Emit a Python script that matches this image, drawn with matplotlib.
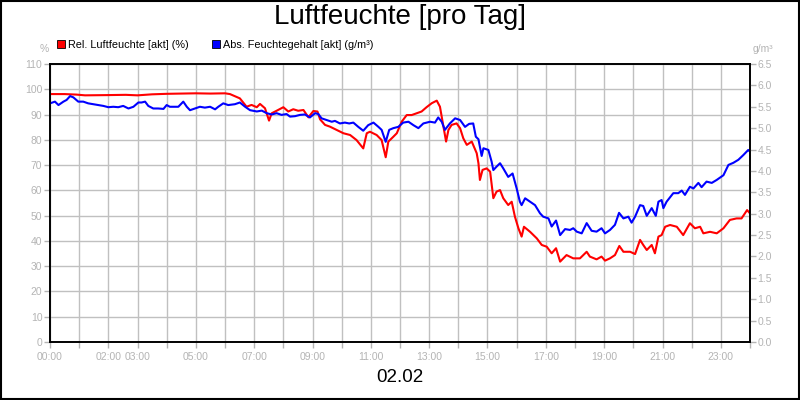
import matplotlib
matplotlib.use("Agg")
import matplotlib.pyplot as plt
from matplotlib.patches import Rectangle, Patch

plt.rcParams["font.family"] = ["Liberation Sans", "DejaVu Sans"]

# === Daten ===
rel_h = [0.0, 0.5, 0.9, 1.2, 2.0, 2.6, 3.0, 3.5, 4.0, 4.5, 5.0, 5.5, 6.0, 6.17,
         6.51, 6.74, 6.91, 7.09, 7.2, 7.37, 7.51, 7.6, 7.77, 8.0, 8.17, 8.34,
         8.51, 8.69, 8.86, 9.03, 9.17, 9.26, 9.43, 9.6, 9.83, 10.06, 10.29,
         10.51, 10.74, 10.86, 10.97, 11.2, 11.37, 11.51, 11.6, 11.77, 11.89,
         12.06, 12.23, 12.4, 12.57, 12.74, 12.91, 13.09, 13.26, 13.37, 13.49,
         13.58, 13.66, 13.77, 13.94, 14.06, 14.17, 14.29, 14.46, 14.63, 14.69,
         14.74, 14.83, 14.97, 15.09, 15.2, 15.31, 15.43, 15.54, 15.71, 15.83,
         15.94, 16.06, 16.17, 16.25, 16.46, 16.69, 16.86, 17.03, 17.2, 17.35,
         17.49, 17.71, 17.94, 18.17, 18.4, 18.51, 18.74, 18.91, 19.03, 19.2,
         19.37, 19.52, 19.66, 19.89, 20.06, 20.23, 20.34, 20.46, 20.63, 20.74,
         20.86, 20.97, 21.09, 21.26, 21.49, 21.71, 21.94, 22.11, 22.29, 22.4,
         22.63, 22.86, 23.09, 23.31, 23.54, 23.71, 23.9, 24.0]
rel_pct = [98.1, 98.1, 97.9, 97.6, 97.7, 97.8, 97.6, 98.0, 98.2, 98.3, 98.4, 98.3, 98.4, 98.1,
           96.4, 93.1, 93.8, 92.9, 94.2, 92.5, 87.6, 90.5, 91.5, 92.9, 91.2, 92.1,
           91.5, 91.8, 88.9, 91.4, 91.2, 88.1, 85.9, 85.2, 83.9, 82.6, 81.9,
           79.9, 76.6, 82.6, 83.2, 81.9, 79.9, 73.1, 79.3, 81.2, 82.6,
           87.2, 89.8, 89.8, 90.5, 91.2, 92.9, 94.5, 95.5, 93.1, 85.2,
           79.3, 83.9, 85.9, 86.5, 84.6, 80.6, 78.0, 79.3, 74.7, 70.7,
           64.1, 68.1, 68.7, 67.4, 56.9, 59.5, 60.1, 56.9, 54.2, 55.5,
           49.6, 45.0, 41.7, 45.6, 43.6, 41.0, 38.4, 37.7, 35.1, 37.1,
           31.8, 34.4, 33.1, 33.1, 35.7, 33.8, 32.7, 33.8, 32.2, 33.1,
           34.4, 38.0, 35.7, 35.7, 34.8, 40.4, 38.4, 36.4, 38.4, 35.1,
           41.7, 42.3, 45.6, 46.3, 45.6, 42.3, 47.0, 45.0, 45.6, 43.0,
           43.6, 43.0, 45.0, 48.3, 48.9, 48.9, 52.2, 50.9]

abs_h = [0.0, 0.17, 0.29, 0.46, 0.57, 0.69, 0.8, 0.97, 1.14, 1.31, 1.49, 1.66,
         1.83, 2.0, 2.17, 2.34, 2.51, 2.69, 2.86, 3.03, 3.14, 3.26, 3.37, 3.54,
         3.71, 3.89, 4.0, 4.11, 4.29, 4.4, 4.57, 4.69, 4.8, 4.97, 5.14, 5.31,
         5.49, 5.66, 5.77, 5.94, 6.11, 6.34, 6.51, 6.69, 6.86, 7.09, 7.26, 7.43,
         7.6, 7.77, 7.94, 8.11, 8.23, 8.4, 8.57, 8.74, 8.91, 9.09, 9.2, 9.31,
         9.49, 9.66, 9.77, 9.94, 10.11, 10.26, 10.4, 10.57, 10.74, 10.91, 11.09,
         11.26, 11.37, 11.51, 11.63, 11.77, 11.94, 12.11, 12.29, 12.46, 12.63,
         12.8, 13.03, 13.2, 13.31, 13.43, 13.54, 13.71, 13.89, 14.06, 14.23,
         14.37, 14.51, 14.6, 14.69, 14.8, 14.86, 15.03, 15.14, 15.2, 15.31,
         15.43, 15.54, 15.71, 15.86, 16.0, 16.11, 16.17, 16.29, 16.46, 16.63,
         16.8, 16.91, 17.09, 17.2, 17.35, 17.49, 17.66, 17.83, 17.94, 18.06,
         18.23, 18.4, 18.57, 18.74, 18.91, 19.03, 19.2, 19.37, 19.51, 19.66,
         19.83, 19.94, 20.06, 20.23, 20.34, 20.46, 20.63, 20.77, 20.86, 20.97,
         21.03, 21.14, 21.37, 21.54, 21.66, 21.77, 21.94, 22.06, 22.23, 22.34,
         22.51, 22.69, 22.86, 23.09, 23.26, 23.43, 23.6, 23.77, 23.94, 24.0]
abs_gm3 = [5.58, 5.62, 5.54, 5.62, 5.66, 5.75, 5.72, 5.62, 5.62, 5.58, 5.56, 5.54,
           5.52, 5.49, 5.50, 5.49, 5.52, 5.46, 5.50, 5.60, 5.60, 5.62, 5.52, 5.46,
           5.46, 5.45, 5.54, 5.50, 5.50, 5.50, 5.62, 5.50, 5.42, 5.46, 5.50, 5.48,
           5.50, 5.44, 5.50, 5.58, 5.54, 5.56, 5.60, 5.50, 5.42, 5.39, 5.41, 5.35,
           5.32, 5.35, 5.31, 5.33, 5.27, 5.28, 5.31, 5.32, 5.25, 5.35, 5.33, 5.23,
           5.19, 5.15, 5.17, 5.11, 5.13, 5.11, 5.13, 5.03, 4.94, 5.07, 5.13,
           5.03, 4.96, 4.68, 4.96, 5.00, 5.03, 5.13, 5.15, 5.07, 5.00,
           5.11, 5.15, 5.13, 5.25, 5.15, 4.96, 5.11, 5.23, 5.19, 5.03,
           5.10, 5.11, 4.80, 4.74, 4.35, 4.53, 4.49, 4.22, 4.02, 4.10,
           4.18, 4.06, 3.86, 3.94, 3.59, 3.28, 3.20, 3.36, 3.28, 3.20,
           3.01, 2.93, 2.89, 2.70, 2.84, 2.50, 2.64, 2.62, 2.66, 2.58,
           2.54, 2.78, 2.60, 2.58, 2.66, 2.54, 2.62, 2.74, 3.02, 2.89,
           2.93, 2.79, 2.93, 3.20, 3.18, 2.95, 3.13, 2.95, 3.28, 3.32,
           3.13, 3.28, 3.48, 3.48, 3.54, 3.44, 3.63, 3.59, 3.72, 3.62,
           3.75, 3.72, 3.79, 3.90, 4.14, 4.19, 4.26, 4.37, 4.49, 4.45]

stunden = list(range(25))
x_labels = {0: "00:00", 2: "02:00", 3: "03:00", 5: "05:00", 7: "07:00", 9: "09:00",
            11: "11:00", 13: "13:00", 15: "15:00", 17: "17:00", 19: "19:00",
            21: "21:00", 23: "23:00"}
links_ticks = list(range(0, 111, 10))
rechts_ticks = [i * 0.5 for i in range(14)]

grau = "#b4b4b4"
gitter = "#c0c0c0"

fig = plt.figure(figsize=(8, 4), dpi=100)
fig.patch.set_facecolor("white")
fig.patches.append(Rectangle((0.001, 0.002), 0.998, 0.996, transform=fig.transFigure,
                             fill=False, edgecolor="black", linewidth=1.5))

ax = fig.add_axes([50 / 800, 58 / 400, 700 / 800, 278 / 400])
ax2 = ax.twinx()

ax.plot(rel_h, rel_pct, color="#ff0000", lw=1.5)
ax2.plot(abs_h, abs_gm3, color="#0000ff", lw=1.5)

ax.set_xlim(0, 24)
ax.set_ylim(0, 110)
ax2.set_ylim(0, 6.5)

ax.set_xticks(stunden)
ax.set_xticklabels([x_labels.get(h, "") for h in stunden])
ax.set_yticks(links_ticks)
ax.set_yticklabels([str(v) for v in links_ticks])
ax2.set_yticks(rechts_ticks)
ax2.set_yticklabels([f"{v:.1f}" for v in rechts_ticks])

for a in (ax, ax2):
    a.tick_params(colors=grau, labelcolor=grau, labelsize=7.5, length=4, width=1)
    for s in a.spines.values():
        s.set_color("black")
        s.set_linewidth(1.2)
ax.tick_params(axis="x", pad=3)
ax.tick_params(axis="y", pad=1.5)
ax2.tick_params(axis="y", pad=1.5)

ax.grid(True, color=gitter, lw=1.0)
ax.set_axisbelow(True)

fig.text(0.5, 1 - 17 / 400, "Luftfeuchte [pro Tag]", ha="center", va="center", fontsize=20)
fig.text(0.5, 1 - 378 / 400, "02.02", ha="center", va="center", fontsize=13.5)
fig.text(44 / 800, 1 - 49 / 400, "%", ha="center", va="center", fontsize=7.5, color=grau)
fig.text(763 / 800, 1 - 49 / 400, "g/m³", ha="center", va="center", fontsize=7.5, color=grau)

handles = [Patch(facecolor="#ff0000", edgecolor="black", lw=0.6, label="Rel. Luftfeuchte [akt] (%)"),
           Patch(facecolor="#0000ff", edgecolor="black", lw=0.6, label="Abs. Feuchtegehalt [akt] (g/m³)")]
fig.legend(handles=handles, loc="center left", bbox_to_anchor=(57 / 800, 1 - 45 / 400),
           ncol=2, frameon=False, fontsize=7.8, handlelength=0.7, handleheight=0.7,
           handletextpad=0.3, columnspacing=2.2, borderpad=0, borderaxespad=0)

fig.savefig("out.png", dpi=100)
